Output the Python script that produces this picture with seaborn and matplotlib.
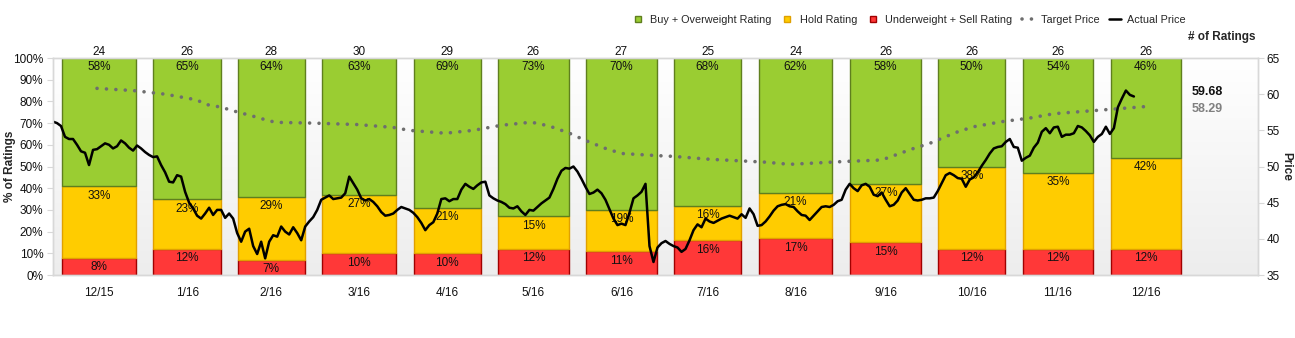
import numpy as np
import matplotlib
matplotlib.use("Agg")
import matplotlib.pyplot as plt
from matplotlib.lines import Line2D
from matplotlib.colors import LinearSegmentedColormap
import seaborn as sns

# ---- data -------------------------------------------------------------
months = ["12/15", "1/16", "2/16", "3/16", "4/16", "5/16", "6/16",
          "7/16", "8/16", "9/16", "10/16", "11/16", "12/16"]
month_starts = ["2015-12-01", "2016-01-01", "2016-02-01", "2016-03-01",
                "2016-04-01", "2016-05-01", "2016-06-01", "2016-07-01",
                "2016-08-01", "2016-09-01", "2016-10-01", "2016-11-01",
                "2016-12-01", "2017-01-01"]
buy_pct = [58, 65, 64, 63, 69, 73, 70, 68, 62, 58, 50, 54, 46]
hold_pct = [33, 23, 29, 27, 21, 15, 19, 16, 21, 27, 38, 35, 42]
sell_pct = [8, 12, 7, 10, 10, 12, 11, 16, 17, 15, 12, 12, 12]
n_ratings = [24, 26, 28, 30, 29, 26, 27, 25, 24, 26, 26, 26, 26]

# daily closing price, one value per trading session from 1 Dec 2015
actual_price = [
    56.2, 56.0, 55.6, 54.1, 53.8, 53.8, 53.0, 52.1, 51.9, 50.2,
    52.3, 52.4, 52.8, 53.2, 53.0, 52.5, 52.8, 53.6, 53.2, 52.6,
    52.2, 52.9, 52.5, 52.0, 51.6, 51.3, 51.4, 50.2, 49.2, 47.9,
    47.8, 48.8, 48.6, 46.5, 45.0, 44.2, 43.2, 42.8, 43.5, 44.3,
    43.3, 44.0, 44.0, 42.9, 43.5, 42.8, 40.8, 39.6, 41.0, 41.4,
    39.0, 37.9, 39.6, 37.3, 39.6, 40.5, 40.3, 41.7, 41.0, 40.6,
    41.6, 40.8, 39.8, 41.7, 42.4, 43.0, 44.0, 45.4, 45.7, 46.0,
    45.5, 45.6, 45.7, 46.3, 48.6, 47.7, 46.8, 45.6, 45.3, 45.5,
    45.1, 44.5, 43.7, 43.2, 43.3, 43.5, 44.0, 44.4, 44.2, 44.0,
    43.6, 43.0, 42.2, 41.2, 41.9, 42.3, 43.5, 45.5, 45.6, 45.2,
    45.5, 45.5, 46.8, 47.6, 47.2, 46.9, 47.4, 47.8, 47.9, 46.0,
    45.6, 45.3, 45.1, 44.8, 44.3, 44.2, 44.5, 43.8, 43.3, 44.0,
    43.9, 44.4, 44.9, 45.3, 45.7, 46.9, 48.3, 49.4, 49.8, 49.7,
    50.0, 49.3, 48.3, 47.2, 46.2, 46.4, 46.8, 46.3, 45.4, 44.1,
    42.8, 41.9, 42.1, 41.9, 43.6, 45.6, 46.0, 46.5, 47.6, 39.0,
    36.8, 38.8, 39.4, 39.7, 39.3, 39.0, 38.8, 38.2, 38.6, 39.8,
    41.2, 42.0, 41.6, 42.8, 42.4, 42.2, 42.5, 42.8, 43.0, 43.2,
    43.0, 42.8, 43.4, 42.9, 44.2, 43.4, 41.8, 41.9, 42.4, 43.1,
    43.9, 44.5, 44.7, 44.8, 44.5, 44.4, 43.8, 43.3, 43.2, 42.6,
    43.2, 43.8, 44.4, 44.5, 44.4, 44.7, 45.2, 45.4, 46.8, 47.6,
    47.0, 46.6, 47.4, 47.6, 47.2, 46.1, 45.9, 46.4, 45.4, 44.5,
    44.7, 45.3, 46.4, 47.0, 46.2, 45.4, 45.3, 45.4, 45.6, 45.6,
    45.7, 46.6, 47.7, 48.8, 49.1, 48.8, 48.4, 48.3, 47.2, 48.2,
    48.5, 49.2, 50.1, 50.9, 51.8, 52.5, 52.7, 52.8, 53.4, 53.8,
    52.7, 52.6, 50.8, 51.2, 51.5, 52.6, 53.3, 54.8, 55.3, 54.6,
    55.4, 55.5, 54.1, 54.4, 54.4, 54.6, 55.6, 55.4, 54.9, 54.3,
    53.4, 54.1, 54.5, 55.5, 54.5, 55.3, 58.2, 59.4, 60.5, 59.9,
    59.68,
]

# consensus target price, sampled at these trading sessions
target_session = [11, 20, 28, 36, 38, 42, 45, 47, 51, 54, 56, 65, 76, 85,
                  89, 98, 105, 112, 119, 121, 125, 129, 133, 138, 142, 151,
                  155, 164, 171, 178, 184, 191, 198, 207, 211, 215, 219,
                  222, 226, 230, 237, 244, 250, 257, 264, 273]
target_price = [60.8, 60.5, 60.0, 59.2, 58.6, 58.2, 57.7, 57.4, 56.8, 56.3,
                56.1, 56.0, 55.8, 55.4, 55.0, 54.6, 55.0, 55.7, 56.1, 56.0,
                55.4, 54.6, 53.6, 52.5, 51.8, 51.5, 51.4, 51.0, 50.8, 50.6,
                50.3, 50.5, 50.7, 50.9, 51.7, 52.5, 53.2, 53.9, 54.8, 55.5,
                56.2, 56.7, 57.3, 57.6, 57.9, 58.29]

last_actual = 59.68
last_target = 58.29

# ---- styling ----------------------------------------------------------
sns.set_theme(style="white")
plt.rcParams["font.family"] = ["Liberation Sans", "DejaVu Sans"]
plt.rcParams["font.size"] = 8.5

GREEN, GREEN_EDGE = "#9ACD32", "#5F7F1E"
YELLOW, YELLOW_EDGE = "#FFCC00", "#E0A000"
RED, RED_EDGE = "#FF3838", "#A00000"
SPINE = "#D8D8D8"
TXT = "#111111"

fig = plt.figure(figsize=(12.95, 3.38), dpi=100)
ax = fig.add_axes([53 / 1295, 1 - 275 / 338, (1258 - 53) / 1295, 217 / 338])

# month slots on a weekday axis starting 1 Dec 2015
origin = np.datetime64(month_starts[0])
ms = np.array(month_starts, dtype="datetime64[D]")
starts = np.busday_count(origin, ms[:-1])
lengths = np.busday_count(ms[:-1], ms[1:])
centers = starts + lengths / 2.0
widths = 0.8 * lengths

x_max = 301
ax.set_xlim(0, x_max)
ax.set_ylim(0, 100)

# soft vertical gradient behind the plot
grad = np.linspace(0, 1, 256).reshape(-1, 1)
bg_cmap = LinearSegmentedColormap.from_list("bg", ["#EDEDED", "#FFFFFF"])
ax.imshow(grad, extent=(0, x_max, 0, 100), origin="lower", aspect="auto",
          cmap=bg_cmap, zorder=0)

sell = np.array(sell_pct, dtype=float)
hold = np.array(hold_pct, dtype=float)
top_hold = sell + hold

ax.bar(centers, sell, width=widths, color=RED, edgecolor=RED_EDGE,
       linewidth=1.0, zorder=2)
ax.bar(centers, hold, bottom=sell, width=widths, color=YELLOW,
       edgecolor=YELLOW_EDGE, linewidth=1.0, zorder=2)
ax.bar(centers, 100 - top_hold, bottom=top_hold, width=widths, color=GREEN,
       edgecolor=GREEN_EDGE, linewidth=1.0, zorder=2)

for c, b, h, s, n, th in zip(centers, buy_pct, hold_pct, sell_pct, n_ratings, top_hold):
    kw = dict(textcoords="offset points", ha="center", va="top",
              fontsize=8.5, color=TXT, zorder=3)
    ax.annotate(f"{b}%", (c, 100), xytext=(0, -2.5), **kw)
    ax.annotate(f"{h}%", (c, th), xytext=(0, -2.5), **kw)
    ax.annotate(f"{s}%", (c, s), xytext=(0, -2.5), **kw)
    ax.annotate(f"{n}", (c, 100), xytext=(0, 0.3), textcoords="offset points",
                ha="center", va="bottom", fontsize=8.5, color=TXT)

ax.set_xticks(centers)
ax.set_xticklabels(months)
ax.set_yticks(np.arange(0, 101, 10))
ax.set_yticklabels([f"{v}%" for v in range(0, 101, 10)])
ax.tick_params(axis="x", length=0, pad=9, labelsize=8.5, colors=TXT)
ax.tick_params(axis="y", length=4, width=0.8, color=SPINE, pad=3,
               labelsize=8.5, labelcolor=TXT, left=True)
ax.set_ylabel("% of Ratings", fontsize=8.5, fontweight="bold")
ax.yaxis.set_label_coords(-37 / 1205, 0.5)
for sp in ax.spines.values():
    sp.set_color(SPINE)
    sp.set_linewidth(1.0)

# price axis on the right
ax2 = ax.twinx()
ax2.set_ylim(35, 65)
ax2.set_xlim(0, x_max)
sessions = np.arange(len(actual_price))
sns.lineplot(x=target_session, y=target_price, ax=ax2, color="#6E6E6E",
             linewidth=2.6, linestyle=(0, (0.01, 2.6)),
             dash_capstyle="round", legend=False)
sns.lineplot(x=sessions, y=actual_price, ax=ax2, color="black",
             linewidth=1.8, legend=False)
ax2.set_yticks(np.arange(35, 66, 5))
ax2.tick_params(axis="y", length=4, width=0.8, color=SPINE, pad=2,
                labelsize=8.5, labelcolor=TXT, right=True)
ax2.set_ylabel("Price", fontsize=8.5, fontweight="bold", rotation=270,
               va="center")
ax2.yaxis.set_label_coords(1 + 28 / 1205, 0.5)
for sp in ax2.spines.values():
    sp.set_color(SPINE)
    sp.set_linewidth(1.0)

# latest values, printed just right of the last bar
label_x = (1192 - 53) / 1205
ax2.text(label_x, (275 - 92) / 217, f"{last_actual:.2f}", transform=ax.transAxes,
         fontsize=9, fontweight="bold", color=TXT, ha="left", va="center")
ax2.text(label_x, (275 - 109) / 217, f"{last_target:.2f}", transform=ax.transAxes,
         fontsize=9, fontweight="bold", color="#808080", ha="left", va="center")

fig.text(1222 / 1295, 1 - 37 / 338, "# of Ratings", fontsize=8.5,
         fontweight="bold", ha="center", va="center")

# legend along the top
handles = [
    Line2D([], [], linestyle="none", marker="s", markersize=4.5,
           markerfacecolor=GREEN, markeredgecolor=GREEN_EDGE),
    Line2D([], [], linestyle="none", marker="s", markersize=4.5,
           markerfacecolor=YELLOW, markeredgecolor=YELLOW_EDGE),
    Line2D([], [], linestyle="none", marker="s", markersize=4.5,
           markerfacecolor=RED, markeredgecolor=RED_EDGE),
    Line2D([], [], color="#6E6E6E", linewidth=2.6,
           linestyle=(0, (0.01, 2.6)), dash_capstyle="round"),
    Line2D([], [], color="black", linewidth=1.8),
]
labels = ["Buy + Overweight Rating", "Hold Rating",
          "Underweight + Sell Rating", "Target Price", "Actual Price"]
fig.legend(handles, labels, loc="center right", ncol=5, frameon=False,
           bbox_to_anchor=(1186 / 1295, 1 - 20 / 338), fontsize=7.8,
           handlelength=1.1, handletextpad=0.6, columnspacing=0.9,
           borderaxespad=0, borderpad=0)

fig.savefig("out.png", dpi=100)
